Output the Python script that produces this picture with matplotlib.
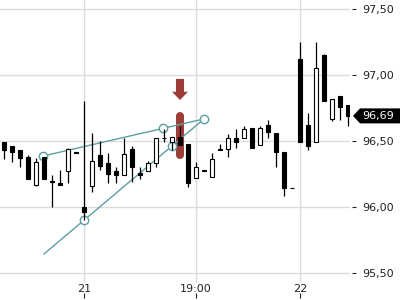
import matplotlib
matplotlib.use('Agg')
import matplotlib.pyplot as plt
import matplotlib.transforms as mtransforms
from matplotlib.patches import Polygon
from matplotlib.ticker import FuncFormatter
import numpy as np

# candles, oldest first
opens = [96.49, 96.46, 96.43, 96.38, 96.17, 96.38, 96.19, 96.18, 96.27, 96.41,
         96.00, 96.16, 96.39, 96.33, 96.27, 96.24, 96.44, 96.26, 96.27, 96.33,
         96.52, 96.49, 96.53, 96.48, 96.22, 96.28, 96.23, 96.44, 96.44, 96.52,
         96.52, 96.60, 96.47, 96.62, 96.56, 96.42, 96.14, 97.12, 96.62, 96.49,
         97.15, 96.67, 96.84, 96.77]
highs = [96.49, 96.46, 96.43, 96.39, 96.37, 96.38, 96.24, 96.28, 96.45, 96.41,
         96.80, 96.56, 96.50, 96.41, 96.30, 96.52, 96.46, 96.30, 96.35, 96.52,
         96.59, 96.53, 96.61, 96.48, 96.34, 96.28, 96.41, 96.48, 96.55, 96.59,
         96.61, 96.60, 96.61, 96.66, 96.56, 96.42, 96.14, 97.25, 96.71, 97.25,
         97.16, 96.82, 96.84, 96.77]
lows = [96.36, 96.34, 96.30, 96.21, 96.16, 96.21, 96.00, 96.17, 96.18, 96.41,
        95.90, 96.11, 96.28, 96.18, 96.18, 96.24, 96.19, 96.21, 96.27, 96.30,
        96.49, 96.43, 96.47, 96.15, 96.22, 96.27, 96.23, 96.43, 96.38, 96.45,
        96.52, 96.45, 96.47, 96.52, 96.30, 96.08, 96.14, 96.49, 96.43, 96.49,
        96.80, 96.65, 96.66, 96.61]
closes = [96.43, 96.42, 96.37, 96.21, 96.34, 96.21, 96.19, 96.17, 96.44, 96.41,
          95.96, 96.35, 96.31, 96.25, 96.24, 96.40, 96.30, 96.24, 96.33, 96.52,
          96.52, 96.53, 96.47, 96.18, 96.30, 96.27, 96.36, 96.43, 96.52, 96.49,
          96.59, 96.45, 96.60, 96.57, 96.42, 96.14, 96.14, 96.49, 96.46, 97.05,
          96.80, 96.82, 96.76, 96.69]

xtick_pos = [10, 24, 37]
xtick_labels = ['21', '19:00', '22']
ytick_vals = [95.5, 96.0, 96.5, 97.0, 97.5]

# wedge drawing
upper_x = [4.875, 25]
upper_y = [96.386, 96.667]
upper_marks_x = [4.875, 19.875, 25]
upper_marks_y = [96.386, 96.595, 96.667]
lower_x = [5, 25]
lower_y = [95.644, 96.667]
lower_marks_x = [10, 21]
lower_marks_y = [95.90, 96.46]

# signal marker
signal_idx = 22
signal_lo, signal_hi = 96.39, 96.69
arrow_from, arrow_to = 96.97, 96.81

teal = '#5c9ea4'
red = '#9c3d38'
txt = '#222222'

fig = plt.figure(figsize=(4, 3), dpi=100)
ax = fig.add_axes([0, 17 / 300, 350 / 400, 283 / 300])

x = np.arange(len(opens))
o = np.array(opens)
c = np.array(closes)

# signal bar behind candles
ax.plot([signal_idx, signal_idx], [signal_lo, signal_hi], color=red, lw=5.8,
        solid_capstyle='round', zorder=2)
ax.annotate('', xy=(signal_idx, arrow_to), xytext=(signal_idx, arrow_from),
            arrowprops=dict(arrowstyle='simple,head_length=0.6,head_width=1.15,tail_width=0.58',
                            mutation_scale=10, fc=red, ec='none', lw=0,
                            shrinkA=0, shrinkB=0), zorder=6)

ax.plot(upper_x, upper_y, color=teal, lw=1.0, zorder=2)
ax.plot(lower_x, lower_y, color=teal, lw=1.0, zorder=2)
ax.plot(upper_marks_x, upper_marks_y, 'o', ms=6, mfc='white', mec=teal, mew=1.0, zorder=2.5)
ax.plot(lower_marks_x, lower_marks_y, 'o', ms=6, mfc='white', mec=teal, mew=1.0, zorder=2.5)

ax.vlines(x, lows, highs, color='black', lw=0.9, zorder=3)
body_bottom = np.minimum(o, c)
body_h = np.maximum(np.abs(c - o), 0.004)
colors = np.where(c > o, 'white', 'black')
ax.bar(x, body_h, bottom=body_bottom, width=0.55, color=colors,
       edgecolor='black', linewidth=0.8, zorder=4)

ax.set_xlim(-0.5, 43.25)
ax.set_ylim(95.424, 97.568)

for s in ax.spines.values():
    s.set_visible(False)
ax.grid(True, color='#dcdcdc', lw=1.0)
ax.set_axisbelow(True)

ax.set_xticks(xtick_pos, xtick_labels)
ax.tick_params(axis='x', length=0, pad=1, labelsize=8, labelcolor=txt)

sec = ax.secondary_xaxis(-0.053)
sec.set_xticks(xtick_pos)
sec.tick_params(axis='x', direction='in', length=3.3, width=0.8, color=txt,
                labelbottom=False)
for s in sec.spines.values():
    s.set_visible(False)

ax.yaxis.tick_right()
ax.spines['right'].set_position(('outward', 1.5))
ax.set_yticks(ytick_vals)
ax.yaxis.set_major_formatter(FuncFormatter(lambda v, _: f'{v:.2f}'.replace('.', ',')))
ax.tick_params(axis='y', direction='out', length=3, width=0.8, color=txt,
               pad=4, labelsize=8, labelcolor=txt)

# last price tag
last = closes[-1]
trans = mtransforms.blended_transform_factory(fig.transFigure, ax.transData)
hh = 7.5 / 132
tag = Polygon([(353 / 400, last), (360 / 400, last + hh), (1, last + hh),
               (1, last - hh), (360 / 400, last - hh)], closed=True,
              transform=trans, fc='black', ec='none', clip_on=False, zorder=10)
ax.add_patch(tag)
ax.text(378.5 / 400, last, f'{last:.2f}'.replace('.', ','), transform=trans,
        color='white', fontsize=8, ha='center', va='center', zorder=11, clip_on=False)

fig.savefig('out.png', dpi=100)
